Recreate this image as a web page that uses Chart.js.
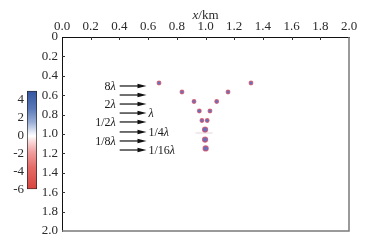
<!DOCTYPE html>
<html>
<head>
<meta charset="utf-8">
<script src="https://cdn.jsdelivr.net/npm/chart.js@4/dist/chart.umd.min.js"></script>
<style>
  html, body { margin: 0; padding: 0; background: #ffffff; }
  #wrap { position: relative; width: 369px; height: 244px; }
  #mainChart { position: absolute; left: 0; top: 0; }
  #barChart { position: absolute; left: 0; top: 80px; }
</style>
</head>
<body>
<div id="wrap">
  <canvas id="mainChart" width="369" height="244"></canvas>
  <canvas id="barChart" width="40" height="120"></canvas>
</div>
<script>
const SERIF = '"Liberation Serif", "Times New Roman", serif';

// axis ticks (km)
const xTicks = [0, 0.2, 0.4, 0.6, 0.8, 1.0, 1.2, 1.4, 1.6, 1.8, 2.0];
const yTicks = [0, 0.2, 0.4, 0.6, 0.8, 1.0, 1.2, 1.4, 1.6, 1.8, 2.0];

// diffractor depths, one per row (km)
const rowDepth = [0.474, 0.567, 0.665, 0.763, 0.861, 0.954, 1.057, 1.149];
// left member of each pair (or single point for the close rows)
const leftX = [0.676, 0.836, 0.920, 0.957, 0.975, 0.997, 0.997, 1.001];
// right member, only for the first five rows
const rightX = [1.317, 1.157, 1.078, 1.031, 1.012];

// faint horizontal smear near 1 km depth
const smearX = [0.93, 1.05];
const smearY = [0.99, 0.99];

// arrows + labels
const arrowDepth = [0.505, 0.598, 0.691, 0.784, 0.876, 0.979, 1.072, 1.165];
const arrowLabels = ['8λ', '', '2λ', 'λ', '1/2λ', '1/4λ', '1/8λ', '1/16λ'];
const arrowSide = ['left', 'left', 'left', 'right', 'left', 'right', 'left', 'right'];
const arrowFrom = 0.402;
const arrowTo = 0.589;

// colour bar
const cbRange = [-6, 5];
const cbTicks = [-6, -4, -2, 0, 2, 4];

const fmt = v => (Math.abs(v) < 1e-9 ? '0' : v.toFixed(1));
const TXT = '#2a2a2a';

// draws the inward ticks, right/bottom frame, x title and the arrow annotations
const decorPlugin = {
    id: 'decor',
    afterDraw(chart) {
        const { ctx, chartArea: a, scales: { x, y } } = chart;
        ctx.save();

        // right + bottom frame (grey, like the source)
        ctx.strokeStyle = '#7a7a7a';
        ctx.lineWidth = 1.5;
        ctx.beginPath();
        ctx.moveTo(a.right, a.top);
        ctx.lineTo(a.right, a.bottom);
        ctx.lineTo(a.left, a.bottom);
        ctx.stroke();

        // inward tick marks
        ctx.strokeStyle = '#333';
        ctx.lineWidth = 1;
        ctx.beginPath();
        xTicks.slice(1, -1).forEach(v => {
            const px = Math.round(x.getPixelForValue(v)) + 0.5;
            ctx.moveTo(px, a.top);
            ctx.lineTo(px, a.top + 3);
        });
        yTicks.slice(1, -1).forEach(v => {
            const py = Math.round(y.getPixelForValue(v)) + 0.5;
            ctx.moveTo(a.left, py);
            ctx.lineTo(a.left + 3, py);
        });
        ctx.stroke();

        // axis title "x/km" with italic x
        const cx = x.getPixelForValue(1.0);
        ctx.fillStyle = TXT;
        ctx.textBaseline = 'middle';
        ctx.font = 'italic 13px ' + SERIF;
        const w1 = ctx.measureText('x').width;
        ctx.font = '13px ' + SERIF;
        const w2 = ctx.measureText('/km').width;
        let sx = cx - (w1 + w2) / 2;
        ctx.font = 'italic 13px ' + SERIF;
        ctx.textAlign = 'left';
        ctx.fillText('x', sx, 16);
        ctx.font = '13px ' + SERIF;
        ctx.fillText('/km', sx + w1, 16);

        // arrows
        const x0 = x.getPixelForValue(arrowFrom);
        const x1 = x.getPixelForValue(arrowTo);
        arrowDepth.forEach((d, i) => {
            const py = y.getPixelForValue(d);
            ctx.strokeStyle = '#111';
            ctx.fillStyle = '#111';
            ctx.lineWidth = 1.2;
            ctx.beginPath();
            ctx.moveTo(x0, py);
            ctx.lineTo(x1 - 6, py);
            ctx.stroke();
            ctx.beginPath();
            ctx.moveTo(x1, py);
            ctx.lineTo(x1 - 9, py - 2.3);
            ctx.lineTo(x1 - 9, py + 2.3);
            ctx.closePath();
            ctx.fill();

            const txt = arrowLabels[i];
            if (!txt) return;
            const pre = txt.slice(0, -1);
            ctx.font = '12px ' + SERIF;
            const pw = ctx.measureText(pre).width;
            ctx.font = 'italic 12px ' + SERIF;
            const lw = ctx.measureText('λ').width;
            let tx = arrowSide[i] === 'left' ? x0 - 4 - (pw + lw) : x1 + 2;
            ctx.fillStyle = '#1a1a1a';
            ctx.textAlign = 'left';
            ctx.font = '12px ' + SERIF;
            ctx.fillText(pre, tx, py + 1);
            ctx.font = 'italic 12px ' + SERIF;
            ctx.fillText('λ', tx + pw, py + 1);
        });
        ctx.restore();
    }
};

new Chart(document.getElementById('mainChart'), {
    type: 'scatter',
    data: {
        datasets: [
            {
                label: 'smear',
                data: smearX.map((v, i) => ({ x: v, y: smearY[i] })),
                showLine: true,
                borderColor: 'rgba(205,175,185,0.5)',
                borderWidth: 1,
                pointRadius: 0
            },
            {
                label: 'left',
                data: leftX.map((v, i) => ({ x: v, y: rowDepth[i] })),
                pointRadius: ctx => (ctx.dataIndex >= 5 ? 2.6 : 1.9),
                backgroundColor: 'rgba(60,80,175,0.8)',
                borderColor: 'rgba(220,75,95,0.75)',
                borderWidth: 1.1
            },
            {
                label: 'right',
                data: rightX.map((v, i) => ({ x: v, y: rowDepth[i] })),
                pointRadius: 1.9,
                backgroundColor: 'rgba(60,80,175,0.8)',
                borderColor: 'rgba(220,75,95,0.75)',
                borderWidth: 1.1
            }
        ]
    },
    options: {
        responsive: false,
        animation: false,
        layout: { padding: { left: 0, right: 20, top: 0, bottom: 13 } },
        plugins: { legend: { display: false }, tooltip: { enabled: false } },
        scales: {
            x: {
                type: 'linear',
                position: 'top',
                min: 0,
                max: 2,
                afterBuildTicks: s => { s.ticks = xTicks.map(v => ({ value: v })); },
                afterFit: s => { s.height = 37; },
                ticks: {
                    callback: v => v.toFixed(1),
                    font: { family: SERIF, size: 13 },
                    color: TXT,
                    padding: 3,
                    maxRotation: 0
                },
                grid: { drawOnChartArea: false, drawTicks: false },
                border: { color: '#111', width: 1 }
            },
            y: {
                type: 'linear',
                reverse: true,
                min: 0,
                max: 2,
                afterBuildTicks: s => { s.ticks = yTicks.map(v => ({ value: v })); },
                afterFit: s => { s.width = 62; },
                ticks: {
                    callback: v => fmt(v),
                    font: { family: SERIF, size: 13 },
                    color: TXT,
                    padding: 4
                },
                grid: { drawOnChartArea: false, drawTicks: false },
                border: { color: '#111', width: 1 }
            }
        }
    },
    plugins: [decorPlugin]
});

// colour bar as a single floating bar with a gradient fill
new Chart(document.getElementById('barChart'), {
    type: 'bar',
    data: {
        labels: ['amp'],
        datasets: [{
            data: [cbRange],
            barPercentage: 1,
            categoryPercentage: 1,
            borderColor: '#222',
            borderWidth: 1,
            borderSkipped: false,
            backgroundColor: ctx => {
                const area = ctx.chart.chartArea;
                if (!area) return '#ffffff';
                const g = ctx.chart.ctx.createLinearGradient(0, area.top, 0, area.bottom);
                g.addColorStop(0.00, '#34559f');
                g.addColorStop(0.18, '#5a78b8');
                g.addColorStop(0.32, '#9aaed6');
                g.addColorStop(0.42, '#e6ebf5');
                g.addColorStop(0.46, '#ffffff');
                g.addColorStop(0.50, '#fbe2e2');
                g.addColorStop(0.62, '#f0a0a0');
                g.addColorStop(0.78, '#e46a66');
                g.addColorStop(1.00, '#d8453f');
                return g;
            }
        }]
    },
    options: {
        responsive: false,
        animation: false,
        layout: { padding: { left: 0, right: 3, top: 9, bottom: 9 } },
        plugins: { legend: { display: false }, tooltip: { enabled: false } },
        scales: {
            x: { display: false },
            y: {
                min: cbRange[0],
                max: cbRange[1],
                afterBuildTicks: s => { s.ticks = cbTicks.map(v => ({ value: v })); },
                afterFit: s => { s.width = 27; },
                ticks: {
                    callback: v => String(v),
                    font: { family: SERIF, size: 13 },
                    color: TXT,
                    padding: 3
                },
                grid: { display: false, drawTicks: false },
                border: { display: false }
            }
        }
    }
});
</script>
</body>
</html>
